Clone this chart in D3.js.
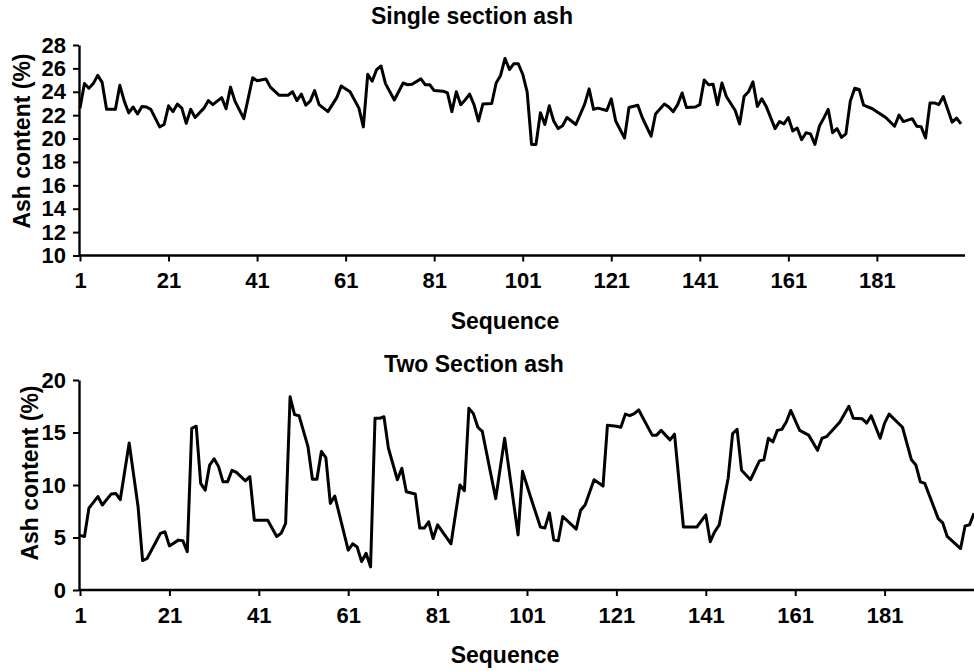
<!DOCTYPE html>
<html><head><meta charset="utf-8">
<script src="https://cdn.jsdelivr.net/npm/d3@7"></script>
<style>
body{margin:0;background:#fff}
svg{display:block}
text{font-family:"Liberation Sans",Arial,sans-serif;font-weight:bold;fill:#000}
</style>
</head><body>
<svg id="c" width="974" height="671"></svg>
<script>
// ---- data ----
const topSeq=[1,2,3,4,5,6,7,9,10,11,12,13,14,15,16,17,19,20,21,22,23,24,25,26,27,29,30,31,33,34,35,36,38,40,41,43,44,46,48,49,50,51,52,53,54,55,57,59,60,62,64,65,66,67,68,69,70,72,74,75,76,78,79,80,81,83,84,85,86,87,88,89,90,91,92,94,95,96,97,98,99,100,101,102,103,104,105,106,107,108,109,110,111,113,115,116,117,118,120,121,122,124,125,127,128,130,131,133,134,135,136,137,138,140,141,142,143,144,145,146,147,149,150,151,152,153,154,155,156,158,159,160,161,162,163,164,165,166,167,168,169,170,171,172,173,174,175,176,177,178,180,181,183,185,186,187,189,190,191,192,193,194,195,196,198,199,200];
const topAsh=[22.6,24.7,24.3,24.7,25.4,24.8,22.5,22.5,24.55,23.2,22.2,22.7,22.1,22.75,22.7,22.5,21.0,21.2,22.8,22.3,22.95,22.6,21.3,22.5,21.8,22.6,23.25,22.9,23.5,22.55,24.4,23.2,21.7,25.2,24.95,25.1,24.4,23.7,23.7,24.0,23.25,23.8,22.85,23.2,24.1,22.9,22.3,23.5,24.5,24.0,22.6,21.0,25.5,24.9,25.9,26.2,24.7,23.3,24.75,24.6,24.65,25.1,24.6,24.6,24.1,24.05,23.9,22.3,24.0,22.9,23.3,23.8,22.9,21.5,22.95,23.0,24.75,25.4,26.85,25.9,26.4,26.4,25.5,24.0,19.5,19.5,22.2,21.2,22.8,21.5,20.85,21.1,21.8,21.2,22.95,24.25,22.5,22.6,22.4,23.4,21.5,20.05,22.65,22.85,21.8,20.2,22.1,22.95,22.7,22.3,22.9,23.9,22.65,22.7,22.9,25.0,24.6,24.65,22.9,24.75,23.6,22.4,21.25,23.6,24.0,24.85,22.75,23.4,22.75,20.85,21.45,21.25,21.8,20.65,20.9,19.9,20.5,20.4,19.5,21.05,21.75,22.5,20.5,20.85,20.1,20.4,23.2,24.3,24.2,22.85,22.55,22.3,21.8,21.05,22.0,21.45,21.7,21.05,21.0,20.05,23.05,23.05,22.9,23.6,21.4,21.75,21.25];

const botSeq=[1,2,3,5,6,8,9,10,12,14,15,16,18,19,20,21,23,24,25,26,27,28,29,30,31,32,33,34,35,36,38,39,40,43,45,46,47,48,49,50,52,53,54,55,56,57,58,61,62,63,64,65,66,67,68,69,70,72,73,74,76,77,78,79,80,81,84,86,87,88,89,90,91,94,96,99,100,102,104,105,106,107,108,109,111,112,113,114,116,118,119,121,122,123,124,125,126,129,130,131,133,134,136,139,141,142,143,144,146,147,148,149,151,152,153,154,155,156,157,158,159,160,162,164,166,167,168,171,173,174,176,177,178,180,181,182,185,187,188,189,190,193,194,195,198,199,200,201];
const botAsh=[5.2,5.1,7.8,8.9,8.1,9.15,9.2,8.6,14.0,7.9,2.8,3.0,4.6,5.4,5.55,4.2,4.75,4.7,3.65,15.4,15.6,10.15,9.5,11.9,12.5,11.75,10.3,10.3,11.4,11.2,10.4,10.8,6.65,6.65,5.1,5.4,6.35,18.4,16.7,16.6,13.65,10.55,10.55,13.2,12.6,8.25,8.95,3.8,4.4,4.1,2.7,3.5,2.2,16.35,16.35,16.5,13.5,10.5,11.6,9.35,9.15,5.9,5.9,6.5,4.9,6.2,4.4,10.0,9.45,17.3,16.8,15.5,15.1,8.7,14.45,5.25,11.3,8.6,6.0,5.9,7.35,4.75,4.7,7.0,6.2,5.8,7.6,8.1,10.5,9.9,15.7,15.6,15.5,16.75,16.6,16.8,17.15,14.75,14.75,15.2,14.3,14.85,6.0,6.0,7.15,4.6,5.55,6.2,10.65,14.9,15.3,11.4,10.5,11.4,12.3,12.4,14.45,14.1,15.2,15.3,16.0,17.1,15.2,14.75,13.3,14.45,14.6,16.0,17.5,16.35,16.3,15.9,16.6,14.45,15.9,16.75,15.5,12.4,11.9,10.3,10.15,6.8,6.4,5.1,3.95,6.1,6.2,7.3];

const xTicks=[1,21,41,61,81,101,121,141,161,181];
const topYTicks=[10,12,14,16,18,20,22,24,26,28];
const botYTicks=[0,5,10,15,20];
const titles=["Single section ash","Two Section ash"];
const xLabel="Sequence";
const yLabel="Ash content (%)";

// ---- drawing ----
const svg=d3.select("#c");

function panel(o){
  const g=svg.append("g");
  const x=d3.scaleLinear().domain(o.xDomain).range(o.xRange);
  const y=d3.scaleLinear().domain(o.yDomain).range(o.yRange);
  const y0=o.yRange[0];

  // x axis
  const xa=g.append("g").attr("transform",`translate(0,${y0})`)
    .call(d3.axisBottom(x).tickValues(xTicks).tickSize(6).tickPadding(11).tickFormat(d3.format("d")));
  xa.select(".domain").remove();
  xa.selectAll(".tick line").attr("stroke","#000").attr("stroke-width",2);
  xa.selectAll(".tick text").style("font-size","22px");
  g.append("line").attr("x1",o.xRange[0]-1).attr("x2",o.axisEnd).attr("y1",y0).attr("y2",y0)
    .attr("stroke","#000").attr("stroke-width",2.4);

  // y axis
  const ya=g.append("g").attr("transform",`translate(${o.xRange[0]-1},0)`)
    .call(d3.axisLeft(y).tickValues(o.yTicks).tickSize(6).tickSizeOuter(0).tickPadding(7));
  ya.select(".domain").attr("stroke","#000").attr("stroke-width",2.4);
  ya.selectAll(".tick line").attr("stroke","#000").attr("stroke-width",2);
  ya.selectAll(".tick text").style("font-size","22px");

  // line
  const pts=o.seq.map((s,i)=>[s,o.vals[i]]);
  g.append("path").datum(pts)
    .attr("fill","none").attr("stroke","#000").attr("stroke-width",3)
    .attr("stroke-linejoin","round")
    .attr("d",d3.line().x(d=>x(d[0])).y(d=>y(d[1])));

  // titles
  g.append("text").attr("x",o.titleX).attr("y",o.titleY).attr("text-anchor","middle")
    .attr("dominant-baseline","central").style("font-size","23px").text(o.title);
  g.append("text").attr("x",o.xlabX).attr("y",o.xlabY).attr("text-anchor","middle")
    .attr("dominant-baseline","central").style("font-size","23px").text(xLabel);
  g.append("text").attr("transform",`translate(${o.ylabX},${o.ylabY}) rotate(-90)`)
    .attr("text-anchor","middle").attr("dominant-baseline","central")
    .style("font-size","23px").text(yLabel);
}

panel({xDomain:[1,200],xRange:[80,961],axisEnd:965,yDomain:[10,28],yRange:[255.5,45],
  yTicks:topYTicks,seq:topSeq,vals:topAsh,title:titles[0],titleX:472,titleY:16,
  xlabX:505,xlabY:321,ylabX:22,ylabY:141});
panel({xDomain:[1,201],xRange:[80,974],axisEnd:974,yDomain:[0,20],yRange:[590,380],
  yTicks:botYTicks,seq:botSeq,vals:botAsh,title:titles[1],titleX:474,titleY:364,
  xlabX:505,xlabY:655,ylabX:30,ylabY:473});
</script>
</body></html>
